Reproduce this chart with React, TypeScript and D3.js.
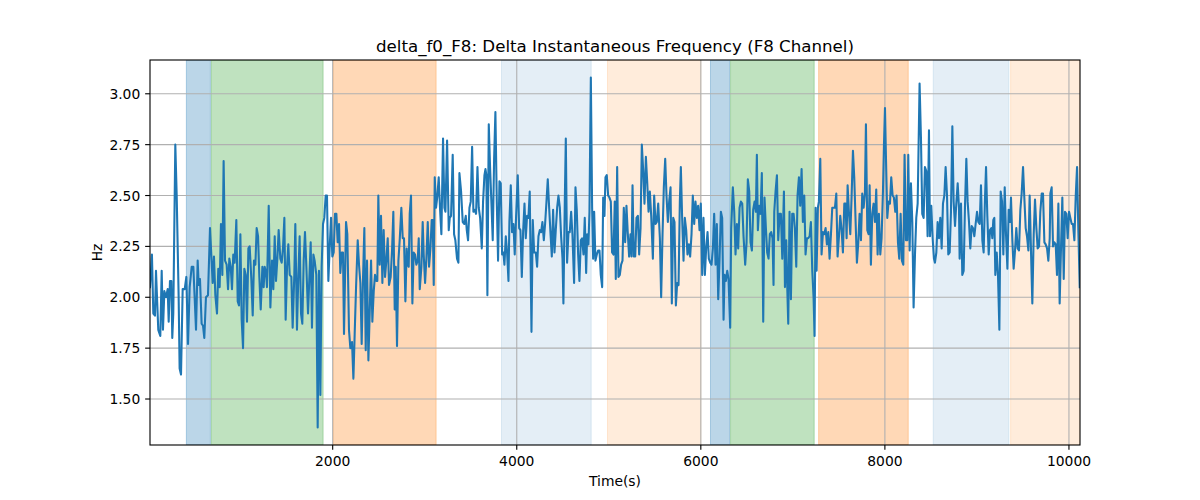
import * as React from "react";
import * as d3 from "d3";

const TITLE = "delta_f0_F8: Delta Instantaneous Frequency (F8 Channel)";
const X_LABEL = "Time(s)";
const Y_LABEL = "Hz";

const xTicks: number[] = [2000, 4000, 6000, 8000, 10000];
const yTicks: number[] = [1.5, 1.75, 2.0, 2.25, 2.5, 2.75, 3.0];

// shaded segments: [start, end, kind]
const spans: [number, number, string][] = [
  [410, 671, "blue"],
  [682, 1896, "green"],
  [2008, 3124, "orange"],
  [3834, 4809, "paleBlue"],
  [4986, 6000, "paleOrange"],
  [6105, 6312, "blue"],
  [6323, 7232, "green"],
  [7280, 8254, "orange"],
  [8525, 9347, "paleBlue"],
  [9366, 10120, "paleOrange"]
];

// [time, Hz]
const samples: [number, number][] = [
  [15, 2.05], [36, 2.21], [51, 1.92], [69, 1.91], [80, 2.13], [105, 1.84], [127, 1.81], [142, 2.13], [156, 1.84], [171, 2.03],
  [189, 2.0], [207, 2.04], [218, 1.88], [232, 2.08], [247, 2.08], [257, 1.8], [268, 1.92], [290, 2.75], [305, 2.5], [326, 2.01],
  [337, 1.65], [352, 1.62], [370, 2.04], [392, 2.04], [410, 2.1], [428, 1.77], [446, 2.05], [468, 2.15], [486, 2.15], [515, 1.84],
  [533, 2.18], [544, 2.06], [558, 2.09], [576, 1.87], [591, 1.86], [605, 1.8], [623, 2.0], [645, 2.01], [667, 2.34], [681, 2.21],
  [696, 2.07], [710, 2.2], [725, 2.01], [743, 1.92], [757, 2.14], [772, 2.05], [786, 2.36], [801, 2.11], [815, 2.67], [830, 2.18],
  [848, 2.16], [863, 2.04], [877, 2.19], [892, 2.15], [906, 2.04], [920, 2.21], [935, 2.17], [953, 2.38], [968, 1.98], [982, 1.96],
  [997, 2.31], [1011, 1.89], [1026, 1.75], [1040, 2.14], [1055, 2.11], [1069, 1.88], [1084, 2.24], [1098, 2.25], [1116, 2.09], [1131, 1.91],
  [1145, 2.18], [1160, 2.16], [1174, 2.34], [1189, 2.3], [1203, 2.1], [1218, 1.94], [1236, 2.15], [1250, 2.05], [1261, 2.15], [1276, 2.12],
  [1286, 2.05], [1305, 2.45], [1323, 1.95], [1341, 2.18], [1355, 2.04], [1370, 2.3], [1384, 2.08], [1399, 2.19], [1413, 2.33], [1431, 2.19],
  [1446, 2.17], [1460, 2.24], [1475, 2.39], [1489, 1.89], [1504, 2.15], [1518, 2.26], [1533, 2.11], [1551, 2.1], [1565, 1.85], [1583, 2.11],
  [1594, 2.36], [1612, 1.84], [1627, 2.11], [1641, 2.3], [1656, 1.92], [1670, 1.87], [1685, 2.18], [1699, 2.32], [1714, 2.15], [1732, 1.92],
  [1761, 2.27], [1775, 1.85], [1790, 2.21], [1804, 2.18], [1822, 2.11], [1837, 1.36], [1851, 2.13], [1866, 1.52], [1880, 2.15], [1895, 2.36],
  [1909, 2.39], [1924, 2.5], [1938, 2.5], [1953, 2.08], [1967, 2.24], [1982, 2.39], [1996, 2.2], [2011, 2.22], [2025, 2.41], [2040, 2.41],
  [2054, 2.27], [2069, 2.36], [2083, 2.12], [2098, 2.22], [2112, 2.22], [2123, 1.82], [2145, 2.37], [2159, 2.31], [2177, 1.84], [2192, 1.75],
  [2210, 1.78], [2225, 1.6], [2239, 1.82], [2254, 2.05], [2272, 2.28], [2286, 2.16], [2301, 2.07], [2315, 1.77], [2330, 2.1], [2344, 2.34],
  [2359, 1.74], [2373, 2.18], [2388, 1.69], [2402, 1.92], [2417, 2.18], [2431, 1.88], [2446, 2.03], [2460, 2.11], [2475, 2.08], [2485, 2.08],
  [2496, 2.5], [2511, 2.16], [2525, 2.4], [2540, 2.07], [2554, 2.33], [2569, 2.1], [2583, 2.18], [2598, 2.29], [2612, 2.06], [2630, 2.1],
  [2645, 2.23], [2659, 2.42], [2674, 1.94], [2685, 2.15], [2699, 1.76], [2714, 2.18], [2728, 2.28], [2746, 2.44], [2761, 2.29], [2775, 2.29],
  [2790, 1.98], [2804, 2.24], [2815, 2.16], [2826, 2.15], [2837, 2.41], [2851, 2.5], [2866, 1.97], [2880, 2.22], [2895, 2.21], [2909, 2.16],
  [2924, 2.18], [2935, 2.29], [2946, 2.04], [2964, 2.15], [2978, 2.37], [2989, 2.21], [3004, 2.07], [3018, 2.19], [3033, 2.37], [3047, 2.15],
  [3062, 2.24], [3076, 2.38], [3087, 2.38], [3098, 2.06], [3109, 2.59], [3123, 2.44], [3138, 2.5], [3152, 2.59], [3167, 2.43], [3181, 2.31],
  [3199, 2.78], [3214, 2.44], [3225, 2.42], [3243, 2.77], [3261, 2.33], [3272, 2.39], [3286, 2.4], [3304, 2.7], [3319, 2.31], [3333, 2.28],
  [3351, 2.19], [3366, 2.17], [3377, 2.61], [3395, 2.52], [3413, 2.37], [3431, 2.36], [3446, 2.4], [3457, 2.33], [3471, 2.28], [3486, 2.44],
  [3500, 2.47], [3515, 2.74], [3529, 2.42], [3544, 2.43], [3558, 2.41], [3573, 2.64], [3587, 2.44], [3602, 2.39], [3620, 2.24], [3634, 2.47],
  [3649, 2.6], [3660, 2.63], [3670, 2.6], [3681, 2.01], [3696, 2.85], [3710, 2.64], [3725, 2.46], [3739, 2.28], [3754, 2.68], [3768, 2.91],
  [3783, 2.47], [3797, 2.18], [3812, 2.57], [3826, 2.56], [3841, 2.21], [3855, 2.22], [3866, 2.16], [3881, 2.3], [3895, 2.22], [3910, 2.08],
  [3920, 2.37], [3935, 2.55], [3949, 2.32], [3964, 2.36], [3978, 2.21], [3993, 2.4], [4011, 2.6], [4026, 2.34], [4040, 2.33], [4055, 2.1],
  [4069, 2.32], [4084, 2.46], [4098, 2.29], [4112, 2.4], [4127, 2.39], [4141, 2.52], [4160, 1.83], [4174, 2.38], [4189, 2.22], [4207, 2.22],
  [4221, 2.15], [4236, 2.3], [4250, 2.33], [4265, 2.32], [4279, 2.37], [4294, 2.28], [4308, 2.36], [4323, 2.47], [4337, 2.58], [4352, 2.44],
  [4366, 2.32], [4381, 2.2], [4395, 2.43], [4410, 2.22], [4424, 2.33], [4439, 2.44], [4453, 2.5], [4468, 2.44], [4482, 2.3], [4497, 2.19],
  [4507, 1.97], [4522, 2.47], [4533, 2.78], [4547, 2.17], [4562, 2.32], [4576, 2.32], [4591, 2.42], [4605, 2.31], [4623, 2.07], [4638, 2.54],
  [4652, 2.43], [4667, 2.21], [4681, 2.08], [4696, 2.28], [4710, 2.29], [4725, 2.21], [4739, 2.39], [4754, 2.12], [4765, 2.31], [4779, 2.26],
  [4790, 2.42], [4805, 3.08], [4819, 2.44], [4830, 2.19], [4841, 2.42], [4855, 2.18], [4870, 2.21], [4884, 2.23], [4899, 2.23], [4913, 2.11],
  [4928, 2.05], [4939, 2.49], [4953, 2.4], [4964, 2.59], [4978, 2.6], [4993, 2.5], [5007, 2.49], [5022, 2.47], [5036, 2.22], [5051, 2.21],
  [5065, 2.47], [5076, 2.09], [5091, 2.64], [5105, 2.1], [5120, 2.11], [5134, 2.16], [5149, 2.18], [5163, 2.44], [5178, 2.27], [5192, 2.45],
  [5207, 2.31], [5221, 2.2], [5236, 2.31], [5247, 2.2], [5258, 2.55], [5272, 2.2], [5287, 2.2], [5301, 2.39], [5316, 2.4], [5330, 2.21],
  [5345, 2.34], [5359, 2.75], [5374, 2.62], [5388, 2.46], [5403, 2.69], [5417, 2.57], [5432, 2.42], [5446, 2.52], [5461, 2.4], [5479, 2.19],
  [5493, 2.5], [5508, 2.36], [5522, 2.37], [5537, 2.46], [5555, 2.29], [5569, 2.0], [5584, 2.31], [5598, 2.54], [5613, 2.68], [5627, 2.5],
  [5642, 2.37], [5656, 2.47], [5671, 2.54], [5685, 1.97], [5700, 2.39], [5714, 2.37], [5729, 1.96], [5743, 2.07], [5758, 2.06], [5772, 2.47],
  [5783, 2.64], [5797, 2.39], [5812, 2.18], [5826, 2.39], [5841, 2.33], [5855, 2.21], [5870, 2.26], [5884, 2.2], [5899, 2.31], [5913, 2.5],
  [5928, 2.36], [5942, 2.47], [5957, 2.39], [5971, 2.45], [5986, 2.33], [6000, 2.46], [6015, 2.11], [6029, 2.39], [6044, 2.11], [6058, 2.24],
  [6073, 2.32], [6087, 2.19], [6102, 2.17], [6116, 2.16], [6131, 2.24], [6145, 2.41], [6160, 2.16], [6174, 2.36], [6189, 1.99], [6203, 2.18],
  [6218, 2.42], [6232, 2.39], [6247, 1.89], [6258, 2.11], [6272, 2.08], [6287, 2.13], [6301, 2.09], [6319, 1.85], [6330, 2.34], [6348, 2.54],
  [6363, 2.42], [6377, 2.21], [6392, 2.36], [6406, 2.24], [6421, 2.44], [6435, 2.47], [6450, 2.46], [6464, 2.3], [6482, 2.16], [6497, 2.27],
  [6511, 2.58], [6526, 2.52], [6540, 2.27], [6555, 2.23], [6569, 2.43], [6584, 2.47], [6598, 2.42], [6609, 2.7], [6620, 2.33], [6634, 2.45],
  [6649, 2.41], [6663, 2.61], [6678, 1.88], [6692, 2.49], [6707, 2.34], [6721, 2.22], [6736, 2.19], [6750, 2.31], [6765, 2.32], [6779, 2.29],
  [6790, 2.06], [6798, 2.42], [6812, 2.52], [6827, 2.6], [6841, 2.28], [6856, 2.41], [6870, 2.41], [6885, 2.19], [6903, 2.52], [6914, 2.05],
  [6928, 2.28], [6939, 2.05], [6950, 1.87], [6964, 2.42], [6979, 1.99], [6993, 2.41], [7008, 2.41], [7022, 2.34], [7037, 2.15], [7051, 2.5],
  [7066, 2.59], [7080, 2.45], [7095, 2.63], [7109, 2.37], [7124, 2.5], [7138, 2.21], [7153, 2.29], [7167, 2.29], [7182, 2.3], [7196, 2.37],
  [7211, 2.13], [7225, 2.0], [7236, 1.81], [7247, 2.44], [7258, 2.13], [7272, 2.44], [7283, 2.47], [7298, 2.68], [7312, 2.21], [7327, 2.32],
  [7341, 2.31], [7356, 2.34], [7370, 2.26], [7385, 2.32], [7399, 2.19], [7414, 2.31], [7428, 2.44], [7443, 2.44], [7457, 2.44], [7472, 2.51],
  [7486, 2.2], [7501, 2.3], [7515, 2.4], [7530, 2.33], [7544, 2.22], [7559, 2.46], [7573, 2.46], [7584, 2.29], [7595, 2.55], [7609, 2.42],
  [7624, 2.31], [7638, 2.49], [7653, 2.72], [7667, 2.59], [7682, 2.37], [7696, 2.17], [7711, 2.27], [7725, 2.41], [7740, 2.28], [7754, 2.51],
  [7769, 2.44], [7783, 2.51], [7794, 2.85], [7809, 2.33], [7823, 2.31], [7834, 2.55], [7848, 2.16], [7863, 2.41], [7877, 2.46], [7892, 2.37],
  [7906, 2.53], [7921, 2.21], [7935, 2.41], [7950, 2.21], [7964, 2.29], [7979, 2.52], [7990, 2.75], [8001, 2.93], [8011, 2.7], [8026, 2.39],
  [8040, 2.47], [8055, 2.46], [8069, 2.59], [8084, 2.5], [8098, 2.49], [8113, 2.42], [8127, 2.5], [8142, 2.27], [8156, 2.19], [8171, 2.41],
  [8185, 2.18], [8200, 2.16], [8214, 2.7], [8229, 2.28], [8243, 2.28], [8254, 2.7], [8269, 2.23], [8283, 2.56], [8298, 2.37], [8312, 1.95],
  [8327, 2.21], [8341, 2.39], [8356, 2.46], [8377, 3.05], [8392, 2.78], [8406, 2.41], [8421, 2.39], [8435, 2.64], [8450, 2.62], [8464, 2.3],
  [8479, 2.82], [8490, 2.3], [8504, 2.45], [8519, 2.29], [8533, 2.19], [8544, 2.17], [8559, 2.22], [8573, 2.37], [8588, 2.29], [8602, 2.39],
  [8617, 2.24], [8631, 2.46], [8646, 2.5], [8660, 2.64], [8675, 2.5], [8689, 2.21], [8704, 2.22], [8718, 2.42], [8733, 2.84], [8747, 2.47],
  [8762, 2.35], [8776, 2.46], [8791, 2.56], [8805, 2.44], [8812, 2.19], [8827, 2.46], [8841, 2.11], [8856, 2.13], [8870, 2.44], [8885, 2.68],
  [8899, 2.47], [8914, 2.37], [8928, 2.24], [8943, 2.35], [8957, 2.34], [8972, 2.3], [8986, 2.36], [9001, 2.42], [9015, 2.37], [9030, 2.36],
  [9044, 2.55], [9059, 2.28], [9073, 2.22], [9088, 2.49], [9099, 2.64], [9113, 2.4], [9128, 2.21], [9142, 2.33], [9157, 2.34], [9167, 2.29],
  [9178, 2.38], [9189, 2.39], [9200, 2.11], [9215, 2.22], [9229, 2.11], [9244, 1.84], [9258, 2.52], [9273, 2.47], [9287, 2.21], [9302, 2.54],
  [9316, 2.31], [9331, 2.14], [9345, 2.43], [9360, 2.37], [9370, 2.49], [9385, 2.28], [9399, 2.14], [9414, 2.23], [9428, 2.34], [9443, 2.24],
  [9457, 2.23], [9472, 2.43], [9486, 2.51], [9501, 2.64], [9515, 2.49], [9530, 2.34], [9544, 2.3], [9559, 2.23], [9573, 2.5], [9588, 2.22],
  [9602, 1.97], [9617, 2.31], [9631, 2.48], [9646, 2.34], [9660, 2.24], [9675, 2.25], [9689, 2.42], [9704, 2.51], [9718, 2.51], [9733, 2.27],
  [9747, 2.26], [9762, 2.24], [9776, 2.18], [9791, 2.29], [9798, 2.51], [9812, 2.54], [9827, 2.25], [9841, 2.27], [9856, 2.26], [9870, 2.11],
  [9885, 2.46], [9899, 1.97], [9914, 2.25], [9928, 2.49], [9943, 2.09], [9957, 2.42], [9972, 2.41], [9986, 2.29], [10001, 2.42], [10015, 2.39],
  [10030, 2.36], [10044, 2.36], [10059, 2.28], [10073, 2.49], [10088, 2.64], [10102, 2.33], [10117, 2.05]
];

const spanStyle: { [k: string]: { color: string; alpha: number } } = {
  blue: { color: "#1f77b4", alpha: 0.3 },
  green: { color: "#2ca02c", alpha: 0.3 },
  orange: { color: "#ff7f0e", alpha: 0.3 },
  paleBlue: { color: "#1f77b4", alpha: 0.12 },
  paleOrange: { color: "#ff7f0e", alpha: 0.15 }
};

const WIDTH = 1200;
const HEIGHT = 500;
const margin = { top: 60, right: 120, bottom: 55, left: 150 };
const FONT = "DejaVu Sans, sans-serif";
const PT = 100 / 72; // matplotlib points -> px at 100 dpi

export default function App(): JSX.Element {
  const plotW = WIDTH - margin.left - margin.right;
  const plotH = HEIGHT - margin.top - margin.bottom;

  const tMin = d3.min(samples, (d) => d[0]) as number;
  const tMax = Math.max(d3.max(samples, (d) => d[0]) as number, d3.max(spans, (s) => s[1]) as number);
  const [vMin, vMax] = d3.extent(samples, (d) => d[1]) as [number, number];
  const pad = (vMax - vMin) * 0.05;

  const x = d3.scaleLinear().domain([tMin, tMax]).range([0, plotW]);
  const y = d3.scaleLinear().domain([vMin - pad, vMax + pad]).range([plotH, 0]);

  const line = d3.line<[number, number]>()
    .x((d) => x(d[0]))
    .y((d) => y(d[1]));

  const fmtY = d3.format(".2f");
  const tickLen = 3.5 * PT;
  const tickFont = 10 * PT;

  return (
    <svg width={WIDTH} height={HEIGHT} style={{ position: "absolute", left: 0, top: 0, background: "#fff" }}
      fontFamily={FONT}>
      <defs>
        <clipPath id="plot-clip">
          <rect x={0} y={0} width={plotW} height={plotH} />
        </clipPath>
      </defs>
      <g transform={`translate(${margin.left},${margin.top})`}>
        <g clipPath="url(#plot-clip)">
          {spans.map((s, i) => {
            const st = spanStyle[s[2]];
            return (
              <rect key={`span-${i}`} x={x(s[0])} y={0} width={x(s[1]) - x(s[0])} height={plotH}
                fill={st.color} fillOpacity={st.alpha} stroke={st.color} strokeOpacity={st.alpha} strokeWidth={1} />
            );
          })}
          {xTicks.map((t) => (
            <line key={`gx-${t}`} x1={x(t)} x2={x(t)} y1={0} y2={plotH} stroke="#b0b0b0" strokeWidth={0.8 * PT} />
          ))}
          {yTicks.map((v) => (
            <line key={`gy-${v}`} x1={0} x2={plotW} y1={y(v)} y2={y(v)} stroke="#b0b0b0" strokeWidth={0.8 * PT} />
          ))}
          <path d={line(samples) || ""} fill="none" stroke="#1f77b4" strokeWidth={1.5 * PT} strokeLinejoin="round" strokeLinecap="square" />
        </g>
        <rect x={0} y={0} width={plotW} height={plotH} fill="none" stroke="#000" strokeWidth={0.8 * PT} />
        {xTicks.map((t) => (
          <g key={`tx-${t}`} transform={`translate(${x(t)},${plotH})`}>
            <line y1={0} y2={tickLen} stroke="#000" strokeWidth={0.8 * PT} />
            <text y={21} textAnchor="middle" fontSize={tickFont} fill="#000">{t}</text>
          </g>
        ))}
        {yTicks.map((v) => (
          <g key={`ty-${v}`} transform={`translate(0,${y(v)})`}>
            <line x1={-tickLen} x2={0} stroke="#000" strokeWidth={0.8 * PT} />
            <text x={-2 * tickLen} y={5} textAnchor="end" fontSize={tickFont} fill="#000">{fmtY(v)}</text>
          </g>
        ))}
        <text x={plotW / 2} y={-8.5} textAnchor="middle" fontSize={12 * PT} fill="#000">{TITLE}</text>
        <text x={plotW / 2} y={plotH + 41} textAnchor="middle" fontSize={tickFont} fill="#000">{X_LABEL}</text>
        <text transform={`translate(${-48},${plotH / 2}) rotate(-90)`} textAnchor="middle" fontSize={tickFont} fill="#000">{Y_LABEL}</text>
      </g>
    </svg>
  );
}
